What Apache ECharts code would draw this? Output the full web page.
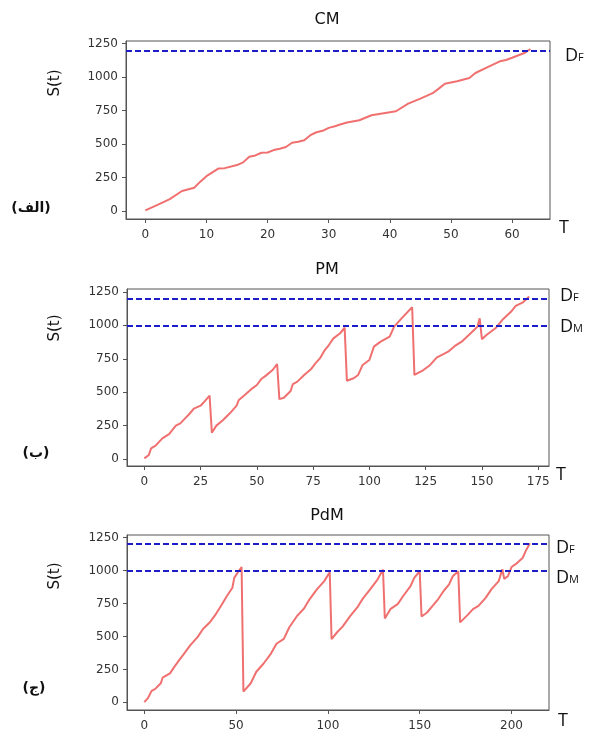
<!DOCTYPE html>
<html>
<head>
<meta charset="utf-8">
<script src="https://cdn.jsdelivr.net/npm/echarts@6/dist/echarts.min.js"></script>
<style>html,body{margin:0;padding:0;background:#fff}#c{width:589px;height:732px}</style>
</head>
<body>
<div id="c"></div>
<script>
// ---- data ----
var titles = ['CM', 'PM', 'PdM'];
var yTicks = [0, 250, 500, 750, 1000, 1250];
var xTicksCM = [0, 10, 20, 30, 40, 50, 60];
var xTicksPM = [0, 25, 50, 75, 100, 125, 150, 175];
var xTicksPdM = [0, 50, 100, 150, 200];
var DF = 1200;
var DM = 1000;

var cmT = [0,2,4,6,8,9,10,12,13,15,16,17,18,19,20,21,22,23,24,25,26,27,28,29,30,31,32,33,35,37,39,41,43,45,47,48,49,51,53,54,56,58,59,60,62,63];
var cmS = [5,45,89,149,174,219,260,318,320,343,363,405,415,435,437,455,465,478,510,517,529,566,588,599,621,633,648,661,678,715,730,745,802,840,880,914,951,969,994,1031,1075,1118,1128,1145,1180,1210];

var pmT = [0,2,3,5,8,11,14,16,18,20,22,25,26,29,30,32,35,38,41,42,45,48,50,52,54,57,59,60,62,65,66,68,71,74,76,78,80,82,84,87,89,90,93,95,97,100,102,105,109,111,115,119,120,124,127,130,132,135,138,141,145,148,149,150,152,156,159,163,165,168,171];
var pmS = [5,30,80,100,155,187,250,267,302,337,377,399,417,474,197,250,292,342,399,442,484,529,554,599,624,666,711,448,459,509,561,579,629,671,716,753,811,853,903,941,983,586,604,629,704,741,841,878,916,990,1065,1135,629,666,704,761,778,803,846,878,941,990,1053,896,928,978,1040,1103,1145,1170,1215];

var pdmT = [0,2,4,6,9,10,14,16,19,21,25,29,32,36,39,42,45,48,49,51,53,54,58,61,65,69,72,76,79,83,87,90,94,98,101,102,105,108,112,116,119,123,127,130,131,134,138,141,145,147,150,151,154,157,160,163,166,168,171,172,176,179,182,186,189,193,195,196,198,200,203,206,208,210];
var pdmS = [2,32,87,102,145,187,220,262,320,357,432,495,557,612,670,737,807,870,945,987,1027,82,145,232,295,370,445,482,570,652,712,782,857,920,987,480,532,575,652,720,787,857,932,1007,637,707,745,807,882,945,995,652,682,732,782,845,895,957,995,607,662,707,732,795,857,920,1010,937,957,1027,1057,1095,1157,1207];

// ---- layout ----
var grids = [
  {left: 126, top: 41, width: 424, height: 178},
  {left: 127, top: 289, width: 422, height: 177},
  {left: 127, top: 535, width: 422, height: 177}
];
var xRanges = [[-3.16, 66.2], [-7.7, 179.8], [-9.4, 220.4]];
var yRanges = [[-60, 1270], [-52, 1272], [-58, 1270]];
var xTickSets = [xTicksCM, xTicksPM, xTicksPdM];
var seriesT = [cmT, pmT, pdmT];
var seriesS = [cmS, pmS, pdmS];

var axisColor = '#555';
var labelFont = {color: '#333', fontSize: 12, fontFamily: 'DejaVu Sans', formatter: function (v) { return String(v); }};

function pairs(t, s) { return t.map(function (v, i) { return [v, s[i]]; }); }

var option = {
  animation: false,
  backgroundColor: '#fff',
  grid: grids.map(function (g) {
    return Object.assign({show: true, borderColor: axisColor, borderWidth: 1, containLabel: false}, g);
  }),
  xAxis: grids.map(function (g, i) {
    return {
      type: 'value', gridIndex: i, min: xRanges[i][0], max: xRanges[i][1],
      axisLine: {show: true, onZero: false, lineStyle: {color: axisColor}},
      axisTick: {show: true, length: 4, customValues: xTickSets[i], lineStyle: {color: axisColor}},
      axisLabel: Object.assign({customValues: xTickSets[i], margin: 10, showMinLabel: true, showMaxLabel: true}, labelFont),
      splitLine: {show: false}
    };
  }),
  yAxis: grids.map(function (g, i) {
    return {
      type: 'value', gridIndex: i, min: yRanges[i][0], max: yRanges[i][1],
      axisLine: {show: true, onZero: false, lineStyle: {color: axisColor}},
      axisTick: {show: true, length: 4, customValues: yTicks, lineStyle: {color: axisColor}},
      axisLabel: Object.assign({customValues: yTicks, margin: 8}, labelFont),
      splitLine: {show: false}
    };
  }),
  series: grids.map(function (g, i) {
    var ml = [{yAxis: DF}];
    if (i > 0) ml.push({yAxis: DM});
    return {
      type: 'line', xAxisIndex: i, yAxisIndex: i,
      data: pairs(seriesT[i], seriesS[i]),
      showSymbol: false, symbol: 'none',
      lineStyle: {color: '#f07070', width: 2},
      markLine: {
        silent: true, symbol: ['none', 'none'], label: {show: false},
        lineStyle: {color: '#1c1cc8', type: [6, 3], width: 1.8},
        data: ml
      }
    };
  }),
  graphic: []
};

var g = option.graphic;
function txt(x, y, text, extra) {
  g.push({type: 'text', x: x, y: y, silent: true,
    style: Object.assign({text: text, fill: '#111', fontFamily: 'DejaVu Sans', fontSize: 15, align: 'center', verticalAlign: 'middle'}, extra || {})});
}
// titles
txt(327, 20, titles[0], {fontSize: 16});
txt(327, 270, titles[1], {fontSize: 16});
txt(327, 516, titles[2], {fontSize: 16});
// S(t) y-axis labels
[83, 328, 576].forEach(function (y) {
  g.push({type: 'text', x: 55, y: y, rotation: Math.PI / 2, silent: true,
    style: {text: 'S(t)', fill: '#111', fontFamily: 'DejaVu Sans', fontSize: 15, align: 'center', verticalAlign: 'middle'}});
});
// T
txt(564, 228, 'T', {fontSize: 18, fontFamily: 'Open Sans'});
txt(561, 475, 'T', {fontSize: 18, fontFamily: 'Open Sans'});
txt(563, 721, 'T', {fontSize: 18, fontFamily: 'Open Sans'});
// D with small-capital subscript letter (F / M)
function dl(x, y, sub) {
  g.push({type: 'text', x: x, y: y + 8, silent: true,
    style: {text: 'D', fill: '#111', fontFamily: 'Open Sans', fontSize: 18, align: 'left', verticalAlign: 'bottom'}});
  g.push({type: 'text', x: x + 13, y: y + 6.5, silent: true,
    style: {text: sub, fill: '#111', fontFamily: 'Open Sans', fontSize: 11, align: 'left', verticalAlign: 'bottom'}});
}
dl(565, 57, 'F');
dl(560, 297, 'F');
dl(560, 328, 'M');
dl(556, 549, 'F');
dl(556, 579, 'M');
// panel letters (Persian)
txt(31, 208, '(الف)', {fontSize: 14, fontWeight: 'bold'});
txt(36, 453, '(ب)', {fontSize: 14, fontWeight: 'bold'});
txt(34, 688, '(ج)', {fontSize: 14, fontWeight: 'bold'});

var chart = echarts.init(document.getElementById('c'), null, {renderer: 'canvas'});
chart.setOption(option);
</script>
</body>
</html>
